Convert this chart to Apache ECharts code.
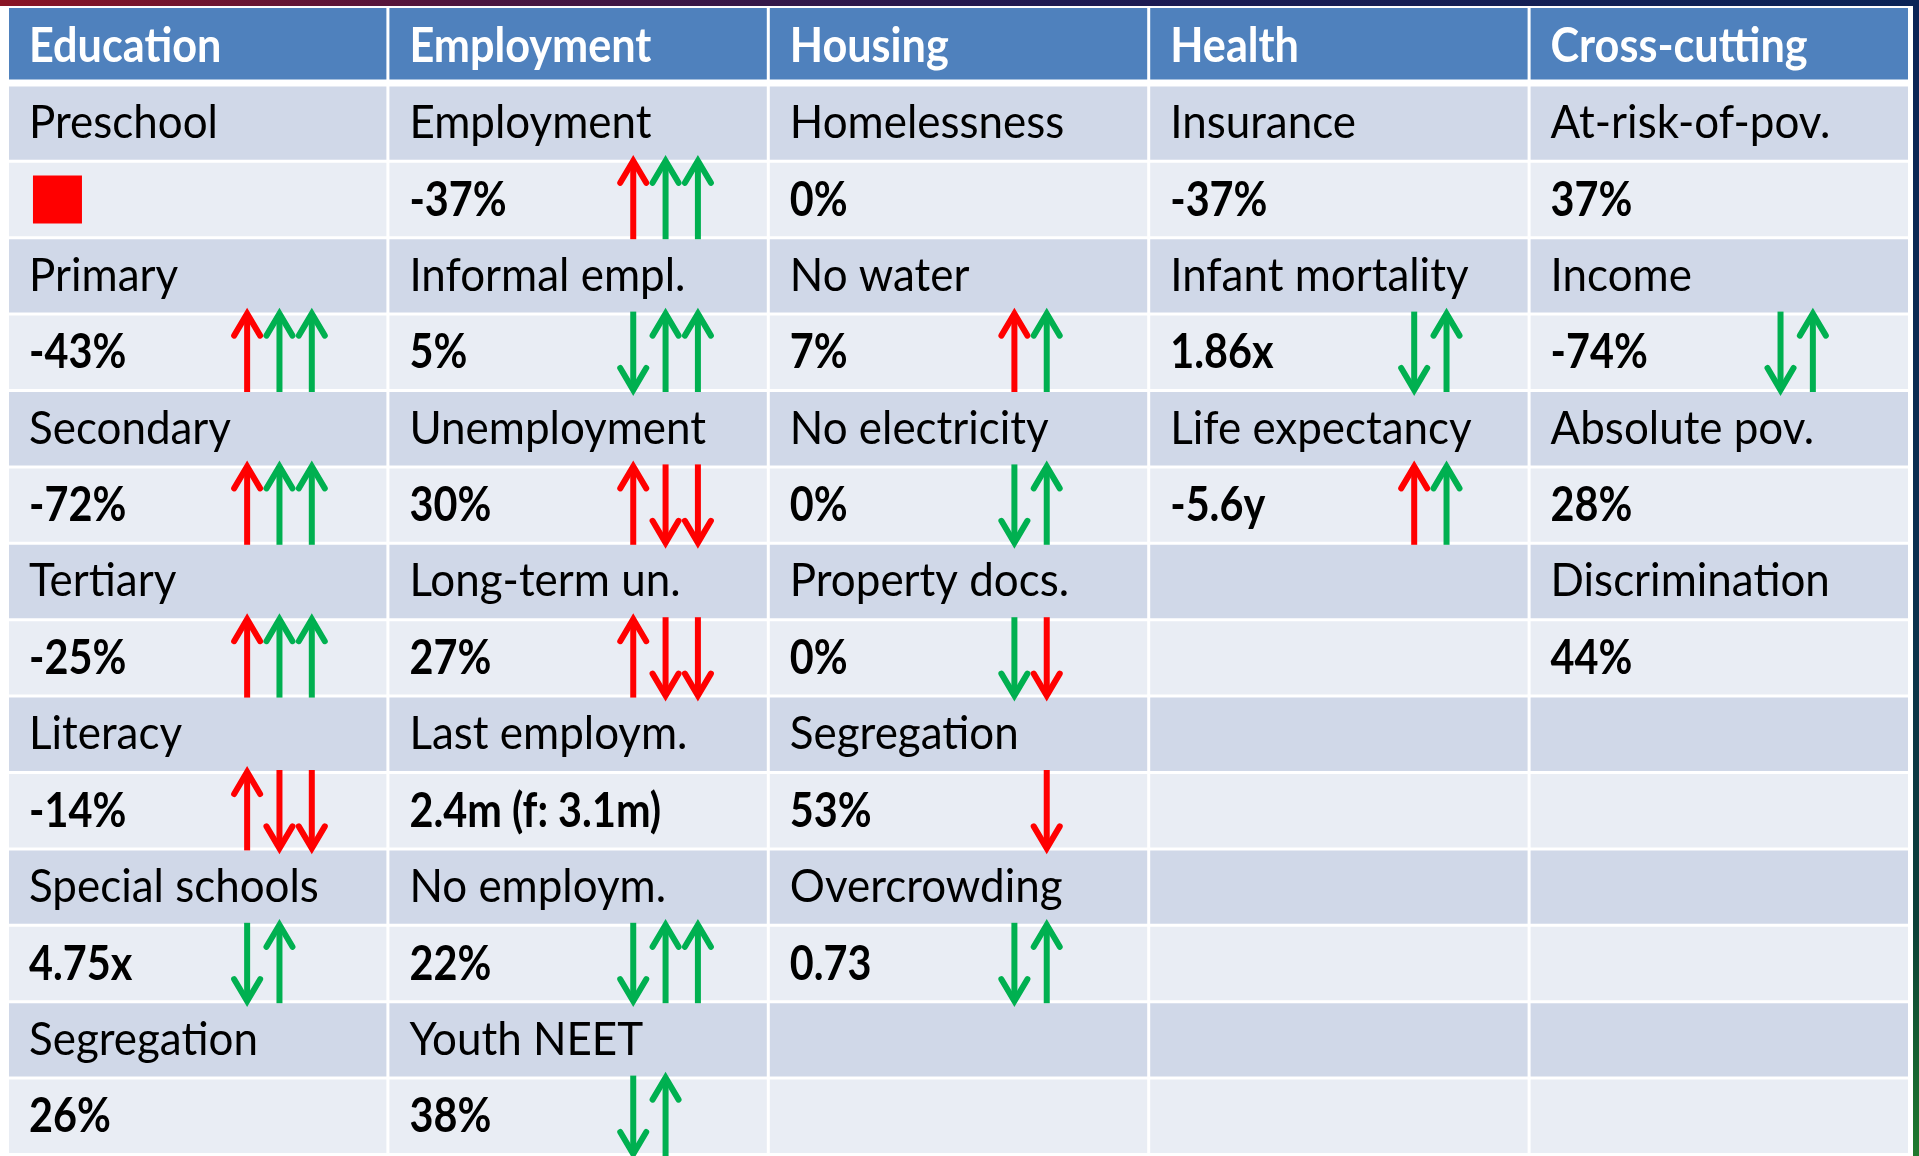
<!DOCTYPE html>
<html>
<head>
<meta charset="utf-8">
<title>Indicators table</title>
<script src="https://cdn.jsdelivr.net/npm/echarts@6/dist/echarts.min.js"></script>
<style>
  html, body { margin: 0; padding: 0; background: #fff; }
  #chart { width: 1919px; height: 1156px; }
</style>
</head>
<body>
<div id="chart"></div>
<script>
// column headers
const headers = ['Education', 'Employment', 'Housing', 'Health', 'Cross-cutting']

// each column: indicator names, values, trend arrows (r/g = red/green, u/d = up/down, '-' = empty slot)
const educationLabels = ['Preschool', 'Primary', 'Secondary', 'Tertiary', 'Literacy', 'Special schools', 'Segregation']
const educationValues = ['', '-43%', '-72%', '-25%', '-14%', '4.75x', '26%']
const educationArrows = ['box', 'ru gu gu', 'ru gu gu', 'ru gu gu', 'ru rd rd', 'gd gu', '']

const employmentLabels = ['Employment', 'Informal empl.', 'Unemployment', 'Long-term un.', 'Last employm.', 'No employm.', 'Youth NEET']
const employmentValues = ['-37%', '5%', '30%', '27%', '2.4m (f: 3.1m)', '22%', '38%']
const employmentArrows = ['ru gu gu', 'gd gu gu', 'ru rd rd', 'ru rd rd', '', 'gd gu gu', 'gd gu']

const housingLabels = ['Homelessness', 'No water', 'No electricity', 'Property docs.', 'Segregation', 'Overcrowding', '']
const housingValues = ['0%', '7%', '0%', '0%', '53%', '0.73', '']
const housingArrows = ['', 'ru gu', 'gd gu', 'gd rd', '- rd', 'gd gu', '']

const healthLabels = ['Insurance', 'Infant mortality', 'Life expectancy', '', '', '', '']
const healthValues = ['-37%', '1.86x', '-5.6y', '', '', '', '']
const healthArrows = ['', 'gd gu', 'ru gu', '', '', '', '']

const crossLabels = ['At-risk-of-pov.', 'Income', 'Absolute pov.', 'Discrimination', '', '', '']
const crossValues = ['37%', '-74%', '28%', '44%', '', '', '']
const crossArrows = ['', 'gd gu', '', '', '', '', '']

const columnLabels = [educationLabels, employmentLabels, housingLabels, healthLabels, crossLabels]
const columnValues = [educationValues, employmentValues, housingValues, healthValues, crossValues]
const columnArrows = [educationArrows, employmentArrows, housingArrows, healthArrows, crossArrows]

// layout (fractions of a column width)
const arrowStart = [0.626, 0.641, 0.643, 0.694, 0.657]
const arrowStep = 0.085
const boxOffset = 0.063

const RED = '#FF0000'
const GREEN = '#00B050'
const FONT = 'Lato, "Noto Sans", sans-serif'

// text styles per kind: font, colour, vertical nudge, horizontal squeeze
const textStyles = {
  header: { font: 'bold 48px ' + FONT, fill: '#fff', dy: 3, sx: 0.9 },
  label: { font: '46px ' + FONT, fill: '#000', dy: 0, sx: 0.955 },
  value: { font: 'bold 47px ' + FONT, fill: '#000', dy: 1, sx: 0.88 }
}

const cells = []
const marks = []
headers.forEach((h, c) => {
  cells.push({ col: c, row: 0, text: h, kind: 'header' })
  columnLabels[c].forEach((lab, k) => {
    cells.push({ col: c, row: 1 + 2 * k, text: lab, kind: 'label' })
    cells.push({ col: c, row: 2 + 2 * k, text: columnValues[c][k], kind: 'value' })
    const code = columnArrows[c][k]
    if (code === 'box') {
      marks.push({ x: c + boxOffset, row: 2 + 2 * k, type: 'box' })
    } else if (code) {
      code.split(' ').forEach((t, i) => {
        if (t === '-') return
        marks.push({ x: c + arrowStart[c] + i * arrowStep, row: 2 + 2 * k, type: 'arrow', color: t[0] === 'r' ? RED : GREEN, up: t[1] === 'u' })
      })
    }
  })
})

function renderCell(params, api) {
  const d = cells[params.dataIndex]
  const tl = api.coord([d.col, d.row])
  const size = api.size([1, 1])
  const isHeader = d.kind === 'header'
  const y0 = isHeader ? tl[1] - 2 : tl[1]
  const h = isHeader ? size[1] - 5 : size[1] - 3
  const w = size[0] - 3
  const fill = isHeader ? '#4F81BD' : (d.row % 2 === 1 ? '#D0D8E8' : '#E9EDF4')
  const ts = textStyles[d.kind]
  return {
    type: 'group',
    children: [
      { type: 'rect', shape: { x: tl[0], y: y0, width: w, height: h }, style: { fill: fill } },
      {
        type: 'text',
        x: tl[0] + 20,
        y: y0 + h / 2 + ts.dy,
        scaleX: ts.sx,
        style: {
          text: d.text, x: 0, y: 0,
          font: ts.font, fill: ts.fill, align: 'left', verticalAlign: 'middle'
        }
      }
    ]
  }
}

function renderMark(params, api) {
  const m = marks[params.dataIndex]
  const p = api.coord([m.x, m.row])
  const size = api.size([1, 1])
  const rowH = size[1] - 3
  if (m.type === 'box') {
    return { type: 'rect', shape: { x: p[0], y: p[1] + rowH / 2 - 24, width: 49, height: 48 }, style: { fill: RED } }
  }
  const top = p[1] - 4
  const bottom = p[1] + rowH + 3
  const tip = m.up ? top : bottom
  const tail = m.up ? bottom : top
  const s = m.up ? 1 : -1
  return {
    type: 'group',
    children: [
      { type: 'line', shape: { x1: p[0], y1: tail, x2: p[0], y2: tip + s * 3 }, style: { stroke: m.color, lineWidth: 6 } },
      {
        type: 'polyline',
        shape: { points: [[p[0] - 13, tip + s * 24], [p[0], tip + s * 2], [p[0] + 13, tip + s * 24]] },
        style: { stroke: m.color, lineWidth: 6, fill: null, lineCap: 'round', lineJoin: 'miter' }
      }
    ]
  }
}

const chart = echarts.init(document.getElementById('chart'))
chart.setOption({
  animation: false,
  backgroundColor: '#fff',
  graphic: [
    {
      type: 'rect', left: 0, top: 0, shape: { width: 1919, height: 6 }, z: 10,
      style: { fill: new echarts.graphic.LinearGradient(0, 0, 1, 0, [
        { offset: 0, color: '#8a1525' }, { offset: 0.25, color: '#4a1640' },
        { offset: 0.55, color: '#1e1a52' }, { offset: 1, color: '#0b2457' }
      ]) }
    },
    {
      type: 'rect', right: 0, top: 0, shape: { width: 6, height: 1156 }, z: 10,
      style: { fill: new echarts.graphic.LinearGradient(0, 0, 0, 1, [
        { offset: 0, color: '#0b2457' }, { offset: 0.5, color: '#0b3050' },
        { offset: 0.8, color: '#0c4038' }, { offset: 1, color: '#1f7a2e' }
      ]) }
    }
  ],
  grid: { left: 9, right: 8, top: 10, height: 1150 },
  xAxis: { type: 'value', min: 0, max: 5, show: false },
  yAxis: { type: 'value', min: 0, max: 15, inverse: true, show: false },
  series: [
    {
      type: 'custom',
      name: 'cells',
      renderItem: renderCell,
      data: cells.map(d => [d.col, d.row]),
      silent: true,
      z: 1
    },
    {
      type: 'custom',
      name: 'trends',
      renderItem: renderMark,
      data: marks.map(m => [m.x, m.row]),
      silent: true,
      z: 2
    }
  ]
})
</script>
</body>
</html>
